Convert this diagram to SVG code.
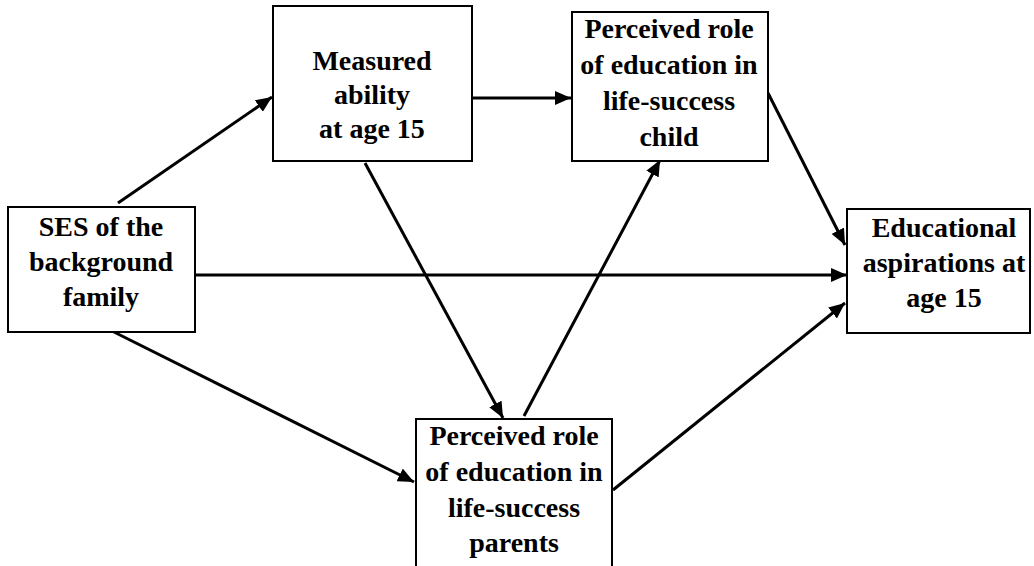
<svg xmlns="http://www.w3.org/2000/svg" width="1034" height="566" viewBox="0 0 1034 566">
<style>
.box{fill:#fff;stroke:#000;stroke-width:2}
.t{font-family:'Liberation Serif','DejaVu Serif',serif;font-weight:700;font-size:28px;fill:#000;text-anchor:middle}
.c{stroke:#000;stroke-width:3;fill:none;marker-end:url(#ah)}
</style>
<defs>
<marker id="ah" markerUnits="userSpaceOnUse" markerWidth="18" markerHeight="14" refX="16" refY="7" orient="auto">
<path d="M0,0 L16,7 L0,14 Z" fill="#000"/>
</marker>
</defs>
<rect width="1034" height="566" fill="#fff"/>
<g id="connectors">
<line class="c" x1="118" y1="203" x2="272" y2="97"/>
<line class="c" x1="195" y1="275" x2="847" y2="275"/>
<line class="c" x1="112" y1="331" x2="414" y2="482"/>
<line class="c" x1="472" y1="98" x2="571" y2="98"/>
<line class="c" x1="365" y1="163" x2="503" y2="418"/>
<line class="c" x1="524" y1="416" x2="660" y2="160"/>
<line class="c" x1="768" y1="93" x2="845" y2="245"/>
<line class="c" x1="613" y1="490" x2="845" y2="303"/>
</g>
<g id="ses">
<rect class="box" x="8" y="207" width="187" height="125"/>
<text class="t" x="101" y="236" font-family="Liberation Serif, DejaVu Serif, serif">SES of the</text>
<text class="t" x="101" y="271" font-family="Liberation Serif, DejaVu Serif, serif">background</text>
<text class="t" x="101" y="306" font-family="Liberation Serif, DejaVu Serif, serif">family</text>
</g>
<g id="ability">
<rect class="box" x="273" y="6" width="199" height="155"/>
<text class="t" x="372" y="70">Measured</text>
<text class="t" x="372" y="104">ability</text>
<text class="t" x="372" y="138">at age 15</text>
</g>
<g id="child">
<rect class="box" x="572" y="12" width="196" height="149"/>
<text class="t" x="669" y="38">Perceived role</text>
<text class="t" x="669" y="74">of education in</text>
<text class="t" x="669" y="110">life-success</text>
<text class="t" x="669" y="146">child</text>
</g>
<g id="aspirations">
<rect class="box" x="847" y="209" width="183" height="124"/>
<text class="t" x="944" y="237">Educational</text>
<text class="t" x="944" y="272">aspirations at</text>
<text class="t" x="944" y="307">age 15</text>
</g>
<g id="parents">
<rect class="box" x="416" y="419" width="196" height="160"/>
<text class="t" x="514" y="445">Perceived role</text>
<text class="t" x="514" y="481">of education in</text>
<text class="t" x="514" y="517">life-success</text>
<text class="t" x="514" y="552">parents</text>
</g>
</svg>
